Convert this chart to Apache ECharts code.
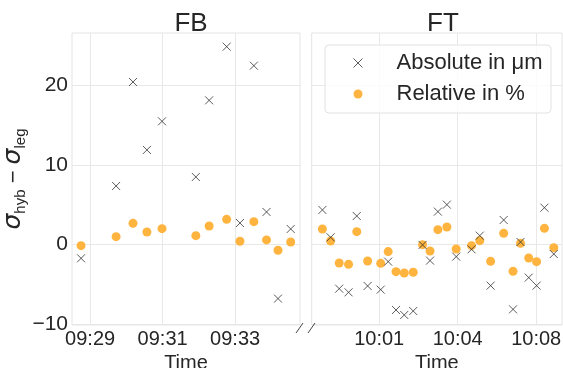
<!DOCTYPE html>
<html>
<head>
<meta charset="utf-8">
<script src="https://cdn.jsdelivr.net/npm/echarts@6/dist/echarts.min.js"></script>
<style>html,body{margin:0;padding:0;background:#fff}#c{width:563px;height:368px}</style>
</head>
<body>
<div id="c"></div>
<script>
// FB panel
var fbTimes = ["09:28:45","09:29:43","09:30:11","09:30:34","09:30:59","09:31:55","09:32:17","09:32:46","09:33:08","09:33:31","09:33:52","09:34:11","09:34:32"];
var fbAbsolute = [-1.76, 7.34, 20.42, 11.87, 15.47, 8.47, 18.11, 24.86, 2.68, 22.47, 4.07, -6.83, 1.93];
var fbRelative = [-0.17, 0.96, 2.64, 1.55, 1.97, 1.09, 2.31, 3.14, 0.38, 2.85, 0.55, -0.75, 0.29];
// FT panel
var ftTimes = ["09:58:28","09:58:50","09:59:13","09:59:38","10:00:00","10:00:29","10:01:04","10:01:24","10:01:45","10:02:07","10:02:31","10:02:56","10:03:16","10:03:37","10:04:01","10:04:26","10:05:07","10:05:29","10:05:58","10:06:33","10:06:58","10:07:18","10:07:40","10:08:01","10:08:22","10:08:47"];
var ftAbsolute = [4.32, 0.88, -5.58, -6.04, 3.56, -5.24, -5.70, -2.18, -8.26, -8.89, -8.39, -0.08, -2.05, 4.11, 4.99, -1.55, -0.63, 1.09, -5.20, 3.06, -8.18, 0.29, -4.19, -5.20, 4.61, -1.22];
var ftRelative = [1.93, 0.42, -2.35, -2.52, 1.59, -2.10, -2.39, -0.92, -3.44, -3.61, -3.52, -0.04, -0.84, 1.84, 2.18, -0.59, -0.17, 0.46, -2.14, 1.38, -3.40, 0.13, -1.72, -2.18, 2.01, -0.42];
// tick labels (minutes after 09:00)
var fbTicks = [29, 31, 33];
var ftTicks = [61, 64.5, 68];
var yTicks = [-10, 0, 10, 20];
var seriesNames = ["Absolute in μm", "Relative in %"];
var panelTitles = ["FB", "FT"];

function toMin(s) { var p = s.split(":").map(Number); return (p[0] - 9) * 60 + p[1] + p[2] / 60; }
function fmt(m) { var t = Math.floor(m + 1e-6); var h = 9 + Math.floor(t / 60); var mm = t % 60; return (h < 10 ? "0" : "") + h + ":" + (mm < 10 ? "0" : "") + mm; }
function fmtY(v) { return String(v).replace("-", "\u2212"); }
function pairs(ts, vs) { return ts.map(function (t, i) { return [toMin(t), vs[i]]; }); }

var textColor = "#262626";
var gridColor = "#e8e8e8";
var crossPath = "path://M0,0L10,10M10,0L0,10";
var orange = "#ffb43f";

function xAxis(idx, min, max, ticks) {
  return {
    type: "value", gridIndex: idx, min: min, max: max,
    name: "Time", nameLocation: "middle", nameGap: 18,
    nameTextStyle: { fontSize: 20, color: textColor, fontFamily: "Liberation Sans" },
    axisLine: { show: false },
    axisTick: { show: false, customValues: ticks },
    axisLabel: { customValues: ticks, formatter: fmt, fontSize: 20, color: textColor, margin: 4, fontFamily: "Liberation Sans" },
    splitLine: { show: true, lineStyle: { color: gridColor, width: 1 } }
  };
}
function yAxis(idx, showLabels) {
  var a = {
    type: "value", gridIndex: idx, min: -10.15, max: 26.58,
    axisLine: { show: false },
    axisTick: { show: false, customValues: yTicks },
    axisLabel: { show: showLabels, customValues: yTicks, formatter: fmtY, fontSize: 21, color: textColor, margin: 4, fontFamily: "Liberation Sans" },
    splitLine: { show: true, lineStyle: { color: gridColor, width: 1 } }
  };
  if (showLabels) {
    a.name = "{s|σ}{sub|hyb}{m| − }{s|σ}{sub|leg}";
    a.nameLocation = "middle";
    a.nameGap = 37;
    a.nameTextStyle = {
      color: textColor,
      rich: {
        s: { fontSize: 25, fontStyle: "italic", fontFamily: "DejaVu Sans", color: textColor, lineHeight: 28 },
        m: { fontSize: 22, fontFamily: "Liberation Sans", color: textColor, lineHeight: 28 },
        sub: { fontSize: 15, fontFamily: "Liberation Sans", color: textColor, verticalAlign: "top", padding: [14, 0, 0, 0] }
      }
    };
  }
  return a;
}

var chart = echarts.init(document.getElementById("c"), null, { renderer: "canvas" });
var option = {
  backgroundColor: "#ffffff",
  animation: false,
  title: [
    { text: panelTitles[0], left: 186, top: 6, textAlign: "center", textStyle: { fontSize: 26, fontWeight: "normal", color: textColor, fontFamily: "Liberation Sans" } },
    { text: panelTitles[1], left: 438, top: 6, textAlign: "center", textStyle: { fontSize: 26, fontWeight: "normal", color: textColor, fontFamily: "Liberation Sans" } }
  ],
  grid: [
    { left: 72, top: 33, width: 228, height: 292, show: true, borderColor: "#e4e4e4", borderWidth: 1, backgroundColor: "transparent", containLabel: false, outerBoundsMode: "none" },
    { left: 311.7, top: 33, width: 250.3, height: 292, show: true, borderColor: "#e4e4e4", borderWidth: 1, backgroundColor: "transparent", containLabel: false, outerBoundsMode: "none" }
  ],
  xAxis: [xAxis(0, 28.50, 34.79, fbTicks), xAxis(1, 57.99, 69.15, ftTicks)],
  yAxis: [yAxis(0, true), yAxis(1, false)],
  legend: {
    orient: "vertical", left: 346, top: 47, itemWidth: 9, itemHeight: 9, itemGap: 9,
    data: [
      { name: seriesNames[0], icon: crossPath, itemStyle: { color: "none", borderColor: "#333", borderWidth: 1 } },
      { name: seriesNames[1], icon: "circle", itemStyle: { color: orange } }
    ],
    textStyle: { fontSize: 22, color: textColor, fontFamily: "Liberation Sans", padding: [0, 0, 0, 29] }
  },
  graphic: [
    { type: "rect", shape: { x: 325, y: 45, width: 226, height: 68, r: 4 }, style: { fill: "rgba(255,255,255,0.8)", stroke: "#e2e2e2", lineWidth: 1 }, z: 3 },
    { type: "line", shape: { x1: 296, y1: 333, x2: 303, y2: 323 }, style: { stroke: "#444", lineWidth: 1 }, z: 10 },
    { type: "line", shape: { x1: 308, y1: 333, x2: 315, y2: 323 }, style: { stroke: "#444", lineWidth: 1 }, z: 10 }
  ],
  series: [
    { name: seriesNames[0], type: "scatter", xAxisIndex: 0, yAxisIndex: 0, symbol: crossPath, symbolSize: 8, data: pairs(fbTimes, fbAbsolute), itemStyle: { color: "none", borderColor: "#333", borderWidth: 1 }, z: 3 },
    { name: seriesNames[1], type: "scatter", xAxisIndex: 0, yAxisIndex: 0, symbol: "circle", symbolSize: 9, data: pairs(fbTimes, fbRelative), itemStyle: { color: orange, opacity: 1 }, z: 2 },
    { name: seriesNames[0], type: "scatter", xAxisIndex: 1, yAxisIndex: 1, symbol: crossPath, symbolSize: 8, data: pairs(ftTimes, ftAbsolute), itemStyle: { color: "none", borderColor: "#333", borderWidth: 1 }, z: 3 },
    { name: seriesNames[1], type: "scatter", xAxisIndex: 1, yAxisIndex: 1, symbol: "circle", symbolSize: 9, data: pairs(ftTimes, ftRelative), itemStyle: { color: orange, opacity: 1 }, z: 2 }
  ]
};
chart.setOption(option);
</script>
</body>
</html>
